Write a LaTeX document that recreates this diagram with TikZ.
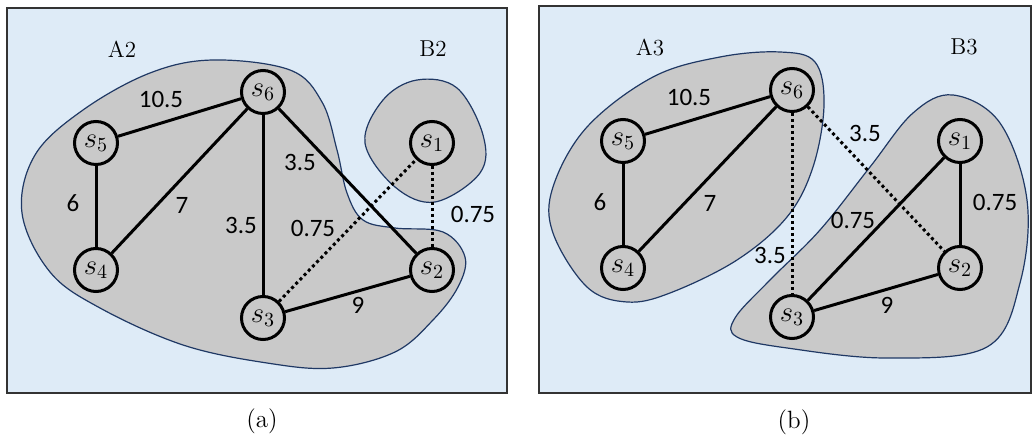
\documentclass[tikz,border=0pt]{standalone}
\usepackage{fontspec}
\usepackage{tikz}
\usetikzlibrary{positioning}
\newfontfamily\numfont{Carlito}
\definecolor{panelblue}{RGB}{222,235,247}
\definecolor{blobgray}{RGB}{201,201,201}
\definecolor{blobline}{RGB}{31,56,100}

\begin{document}
\begin{tikzpicture}[x=0.5pt,y=-0.5pt,
  panel/.style={draw=black!80,line width=0.8pt,fill=panelblue},
  blob/.style={draw=blobline,line width=0.6pt,fill=blobgray},
  vtx/.style={circle,draw=black,line width=1.5pt,fill=blobgray,
              minimum size=21.5pt,inner sep=0pt,font=\fontsize{14}{16}\selectfont},
  edge/.style={line width=1.5pt,black},
  dotedge/.style={edge,dash pattern=on 1.5pt off 1.5pt},
  wt/.style={font=\numfont\fontsize{12.5}{14}\selectfont,inner sep=1pt},
  grp/.style={font=\fontsize{11.5}{14}\selectfont},
  captext/.style={font=\fontsize{12.5}{14}\selectfont}]
  \useasboundingbox (0,0) rectangle (1033,437);

  % (a)
  \draw[panel] (7,8) rectangle (507,393);
  \draw[blob] plot[smooth cycle,tension=0.6] coordinates {
    (213,60) (290,70) (322,102) (337,150) (347,193) (363,220) (395,228)
    (443,232) (465,257) (458,287) (433,320) (395,352) (333,368) (267,363)
    (183,345) (100,308) (50,272) (22,213) (35,155) (83,110) (150,73)};
  \draw[blob] plot[smooth cycle,tension=0.6] coordinates {
    (417,80) (457,88) (483,135) (480,173) (435,202) (395,187)
    (365,143) (383,100)};
  \node[grp] (A2) at (122,49) {A2};
  \node[grp] (B2) at (433,49) {B2};
  \node[vtx] (a6) at (263,92) {$s_6$};
  \node[vtx] (a5) at (96,143) {$s_5$};
  \node[vtx] (a4) at (96,270) {$s_4$};
  \node[vtx] (a3) at (263,318) {$s_3$};
  \node[vtx] (a2) at (432,270) {$s_2$};
  \node[vtx] (a1) at (432,143) {$s_1$};
  \draw[edge] (a5) -- (a6);
  \draw[edge] (a5) -- (a4);
  \draw[edge] (a4) -- (a6);
  \draw[edge] (a6) -- (a3);
  \draw[edge] (a6) -- (a2);
  \draw[edge] (a3) -- (a2);
  \draw[dotedge] (a3) -- (a1);
  \draw[dotedge] (a1) -- (a2);
  \node[wt] (a56) at (161,99) {10.5};
  \node[wt] (a45) at (73,203) {6};
  \node[wt] (a46) at (182,205) {7};
  \node[wt] (a36) at (241,225) {3.5};
  \node[wt] (a26) at (300,162) {3.5};
  \node[wt] (a13) at (313,228) {0.75};
  \node[wt] (a12) at (473,214) {0.75};
  \node[wt] (a23) at (358,305) {9};
  \node[captext] (capa) at (262,421) {(a)};

  % (b)
  \draw[panel] (539,6) rectangle (1031,393);
  \draw[blob] plot[smooth cycle,tension=0.6] coordinates {
    (780,52) (815,62) (824,105) (813,167) (787,217) (737,260) (670,293)
    (627,302) (587,287) (553,233) (553,187) (587,127) (653,77) (720,57)};
  \draw[blob] plot[smooth cycle,tension=0.6] coordinates {
    (953,95) (1000,123) (1027,200) (1020,283) (987,347) (887,358)
    (787,348) (737,337) (735,318) (770,280) (820,230) (870,167) (913,113)};
  \node[grp] (A3) at (650,48) {A3};
  \node[grp] (B3) at (964,47) {B3};
  \node[vtx] (b6) at (792,90) {$s_6$};
  \node[vtx] (b5) at (623,141) {$s_5$};
  \node[vtx] (b4) at (623,268) {$s_4$};
  \node[vtx] (b3) at (792,317) {$s_3$};
  \node[vtx] (b2) at (960,268) {$s_2$};
  \node[vtx] (b1) at (960,141) {$s_1$};
  \draw[edge] (b5) -- (b6);
  \draw[edge] (b5) -- (b4);
  \draw[edge] (b4) -- (b6);
  \draw[edge] (b3) -- (b1);
  \draw[edge] (b1) -- (b2);
  \draw[edge] (b3) -- (b2);
  \draw[dotedge] (b6) -- (b3);
  \draw[dotedge] (b6) -- (b2);
  \node[wt] (b56) at (689,97) {10.5};
  \node[wt] (b45) at (600,202) {6};
  \node[wt] (b46) at (710,203) {7};
  \node[wt] (b26) at (865,133) {3.5};
  \node[wt] (b36) at (770,255) {3.5};
  \node[wt] (b13) at (853,220) {0.75};
  \node[wt] (b12) at (995,202) {0.75};
  \node[wt] (b23) at (887,305) {9};
  \node[captext] (capb) at (794,422) {(b)};
\end{tikzpicture}
\end{document}
